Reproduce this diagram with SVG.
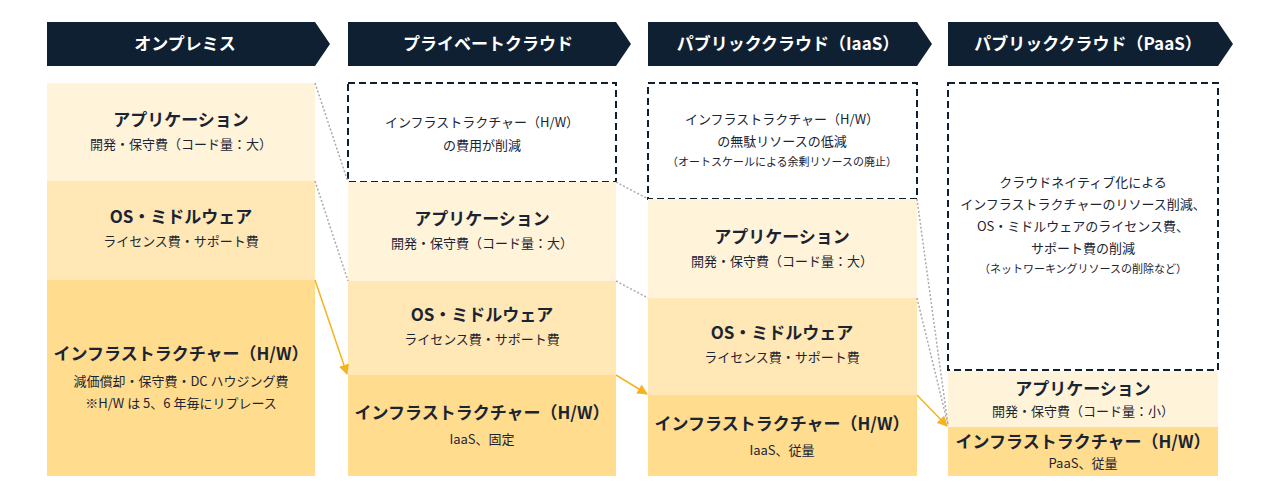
<svg xmlns="http://www.w3.org/2000/svg" width="1280" height="495" viewBox="0 0 1280 495">
<defs>
<style>
text{font-family:"Noto Sans CJK JP","Noto Sans",sans-serif;fill:#1b2433;text-anchor:middle}
.h{fill:#fff;font-weight:bold;font-size:17px}
.t{font-weight:bold;font-size:17px}
.s{font-size:13px}
.xs{font-size:11px}
.hd{fill:#0f2033}
.a{fill:#fff3da}.o{fill:#ffe8b5}.i{fill:#ffdc8e}
.d{fill:#fff;stroke:#0f2033;stroke-width:2;stroke-dasharray:7 4}
.dot{stroke:#aaa;stroke-width:1.5;stroke-dasharray:2 2;fill:none}
.ar{stroke:#f5b31f;stroke-width:1.5;fill:none;marker-end:url(#m)}
</style>
<marker id="m" viewBox="0 0 10 10" refX="9" refY="5" markerWidth="7" markerHeight="7" orient="auto"><path d="M0,0L10,5L0,10z" fill="#f5b31f"/></marker>
</defs>
<g id="headers">
<path class="hd" d="M47,22H315L330,44L315,66H47z"/><text class="h" x="185" y="50">オンプレミス</text>
<path class="hd" d="M348,22H616L631,44L616,66H348z"/><text class="h" x="488" y="50">プライベートクラウド</text>
<path class="hd" d="M648,22H917L932,44L917,66H648z"/><text class="h" x="788" y="50">パブリッククラウド（IaaS）</text>
<path class="hd" d="M948,22H1218L1233,44L1218,66H948z"/><text class="h" x="1088" y="50">パブリッククラウド（PaaS）</text>
</g>
<g id="col1">
<rect class="a" x="47" y="83" width="268" height="98"/>
<text class="t" x="181" y="126">アプリケーション</text><text class="s" x="181" y="149">開発・保守費（コード量：大）</text>
<rect class="o" x="47" y="181" width="268" height="99"/>
<text class="t" x="181" y="223">OS・ミドルウェア</text><text class="s" x="181" y="246">ライセンス費・サポート費</text>
<rect class="i" x="47" y="280" width="268" height="196"/>
<text class="t" x="181" y="360">インフラストラクチャー（H/W）</text><text class="s" x="181" y="386">減価償却・保守費・DC ハウジング費</text><text class="s" x="181" y="408">※H/W は 5、6 年毎にリプレース</text>
</g>
<g id="col2">
<rect class="d" x="348" y="83" width="268" height="99"/>
<text class="s" x="482" y="127">インフラストラクチャー（H/W）</text><text class="s" x="482" y="150">の費用が削減</text>
<rect class="a" x="348" y="182" width="268" height="99"/>
<text class="t" x="482" y="225">アプリケーション</text><text class="s" x="482" y="248">開発・保守費（コード量：大）</text>
<rect class="o" x="348" y="281" width="268" height="94"/>
<text class="t" x="482" y="321">OS・ミドルウェア</text><text class="s" x="482" y="344">ライセンス費・サポート費</text>
<rect class="i" x="348" y="375" width="268" height="101"/>
<text class="t" x="482" y="419">インフラストラクチャー（H/W）</text><text class="s" x="482" y="444">IaaS、固定</text>
</g>
<g id="col3">
<rect class="d" x="648" y="83" width="269" height="116"/>
<text class="s" x="782" y="124">インフラストラクチャー（H/W）</text><text class="s" x="782" y="146">の無駄リソースの低減</text><text class="xs" x="782" y="166">（オートスケールによる余剰リソースの廃止）</text>
<rect class="a" x="648" y="199" width="269" height="99"/>
<text class="t" x="782" y="243">アプリケーション</text><text class="s" x="782" y="266">開発・保守費（コード量：大）</text>
<rect class="o" x="648" y="298" width="269" height="97"/>
<text class="t" x="782" y="339">OS・ミドルウェア</text><text class="s" x="782" y="362">ライセンス費・サポート費</text>
<rect class="i" x="648" y="395" width="269" height="81"/>
<text class="t" x="782" y="430">インフラストラクチャー（H/W）</text><text class="s" x="782" y="455">IaaS、従量</text>
</g>
<g id="col4">
<rect class="d" x="948" y="83" width="270" height="287"/>
<text class="s" x="1083" y="187">クラウドネイティブ化による</text><text class="s" x="1083" y="209">インフラストラクチャーのリソース削減、</text><text class="s" x="1083" y="231">OS・ミドルウェアのライセンス費、</text><text class="s" x="1083" y="253">サポート費の削減</text><text class="xs" x="1083" y="273">（ネットワーキングリソースの削除など）</text>
<rect class="a" x="948" y="371" width="270" height="56"/>
<text class="t" x="1083" y="395">アプリケーション</text><text class="s" x="1083" y="416">開発・保守費（コード量：小）</text>
<rect class="i" x="948" y="427" width="270" height="49"/>
<text class="t" x="1083" y="448">インフラストラクチャー（H/W）</text><text class="s" x="1083" y="468">PaaS、従量</text>
</g>
<g id="connectors">
<path class="dot" d="M315,83L348,182M315,181L348,281M616,182L648,199M616,281L648,298M917,199L948,425M917,298L948,425"/>
<path class="ar" d="M315,280L347,374"/>
<path class="ar" d="M616,375L647,394"/>
<path class="ar" d="M917,395L947,426"/>
</g>
</svg>
